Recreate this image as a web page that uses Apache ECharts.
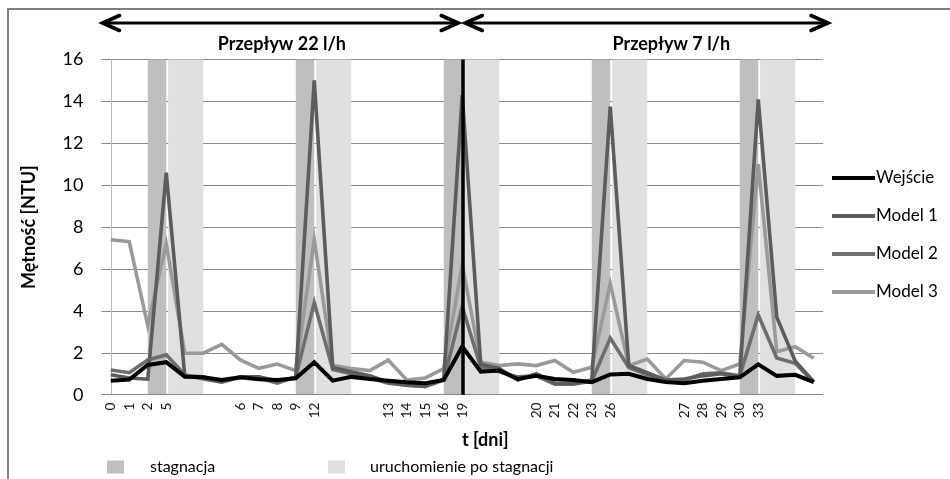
<!DOCTYPE html>
<html>
<head>
<meta charset="utf-8">
<script src="https://cdn.jsdelivr.net/npm/echarts@6/dist/echarts.min.js"></script>
<style>
html,body{margin:0;padding:0;background:#fff;}
#chart{width:950px;height:479px;}
</style>
</head>
<body>
<div id="chart"></div>
<script>
// ---- data ----
const categories = ['0','1','2','5','','','','6','7','8','9','12','','','','13','14','15','16','19','','','','20','21','22','23','26','','','','27','28','29','30','33','','',''];
const wejscie = [0.67,0.72,1.42,1.55,0.86,0.83,0.70,0.83,0.74,0.70,0.78,1.55,0.67,0.85,0.75,0.67,0.60,0.55,0.70,2.30,1.10,1.15,0.75,0.90,0.75,0.70,0.60,0.97,1.00,0.75,0.60,0.55,0.67,0.75,0.83,1.45,0.90,0.95,0.60];
const model1 = [0.95,0.80,0.74,10.6,0.90,0.85,0.62,0.85,0.85,0.65,0.82,15.0,1.30,1.10,0.90,0.60,0.45,0.40,0.75,14.3,1.45,1.25,0.70,1.00,0.55,0.55,0.70,13.75,1.40,1.05,0.70,0.75,0.90,1.00,0.85,14.1,3.70,1.60,0.62];
const model2 = [1.18,1.05,1.66,1.90,0.95,0.75,0.60,0.82,0.80,0.55,0.85,4.40,1.20,1.00,0.80,0.55,0.45,0.40,0.70,4.20,1.30,1.10,0.85,0.90,0.50,0.50,0.65,2.70,1.30,0.95,0.65,0.70,1.00,1.05,0.90,3.80,1.75,1.50,0.60];
const model3 = [7.40,7.30,3.30,7.20,1.98,1.98,2.40,1.66,1.26,1.46,1.15,7.40,1.40,1.25,1.15,1.65,0.70,0.80,1.25,6.20,1.55,1.39,1.47,1.39,1.63,1.07,1.31,5.30,1.39,1.70,0.75,1.63,1.55,1.15,1.47,11.0,2.05,2.29,1.74];
const spikeIdx = [3, 11, 19, 27, 35];      // first measurement after stagnation
const flowChangeIdx = 19;                  // flow changed from 22 l/h to 7 l/h
const flowLabels = ['Przepływ 22 l/h', 'Przepływ 7 l/h'];
const seriesNames = ['Wejście','Model 1','Model 2','Model 3'];
const bandNames = ['stagnacja','uruchomienie po stagnacji'];

// ---- chart ----
const FONT = 'Lato, "Open Sans", sans-serif';
const chart = echarts.init(document.getElementById('chart'), null, {renderer:'canvas'});
const n = categories.length;

const stagAreas = spikeIdx.map(i => [{xAxis: i - 1}, {xAxis: i}]);
const restartAreas = spikeIdx.map(i => [{xAxis: i + 0.1}, {xAxis: i + 2}]);

const lineColors = ['#000000', '#5c5c5c', '#6e6e6e', '#9a9a9a'];
const lineData = [wejscie, model1, model2, model3];

const option = {
  animation: false,
  textStyle: {fontFamily: FONT},
  grid: {left: 101.5, right: 127, top: 59.5, bottom: 84.3, containLabel: false},
  xAxis: [{
    type: 'category',
    data: categories,
    boundaryGap: true,
    axisLine: {lineStyle: {color: '#868686', width: 1}},
    axisTick: {show: false},
    axisLabel: {interval: 0, rotate: 90, fontSize: 13.5, color: '#111', margin: 8, fontFamily: FONT},
    name: 't [dni]',
    nameLocation: 'middle',
    nameGap: 36,
    nameTextStyle: {fontSize: 18, fontWeight: 'bold', color: '#000', padding: [0,0,0,46], verticalAlign: 'top', fontFamily: FONT},
    z: 3
  }, {
    type: 'value',
    min: -0.5, max: n - 0.5,
    show: false
  }],
  yAxis: {
    type: 'value',
    min: 0, max: 16, interval: 2,
    axisLine: {show: true, lineStyle: {color: '#bdbdbd', width: 1}},
    axisTick: {show: true, length: 5, lineStyle: {color: '#868686'}},
    splitLine: {show: true, lineStyle: {color: '#8a8a8a', width: 1}},
    axisLabel: {fontSize: 18, color: '#000', margin: 18, fontFamily: FONT},
    name: 'Mętność [NTU]',
    nameLocation: 'middle',
    nameRotate: 90,
    nameGap: 63,
    nameTextStyle: {fontSize: 18, fontWeight: 'bold', color: '#000', fontFamily: FONT},
    z: 1
  },
  legend: [{
    data: seriesNames.map(s => ({name: s, icon: 'rect'})),
    orient: 'vertical',
    left: 827, top: 163,
    itemWidth: 43, itemHeight: 4, itemGap: 18,
    textStyle: {fontSize: 17, color: '#000', lineHeight: 20, padding: [0,0,0,-4], fontFamily: FONT},
    selectedMode: false
  }, {
    data: [{name: bandNames[0], icon: 'rect'}],
    left: 102, top: 454,
    itemWidth: 17, itemHeight: 13,
    textStyle: {fontSize: 16, color: '#000', padding: [0,0,0,21], fontFamily: FONT},
    selectedMode: false
  }, {
    data: [{name: bandNames[1], icon: 'rect'}],
    left: 323, top: 454,
    itemWidth: 17, itemHeight: 13,
    textStyle: {fontSize: 16, color: '#000', padding: [0,0,0,20], fontFamily: FONT},
    selectedMode: false
  }],
  series: [
    {
      name: bandNames[0], type: 'line', xAxisIndex: 1, data: [], z: 0,
      itemStyle: {color: '#bfbfbf'}, lineStyle: {color: '#bfbfbf'}, symbol: 'none',
      markArea: {silent: true, itemStyle: {color: '#bfbfbf', opacity: 1}, data: stagAreas}
    },
    {
      name: bandNames[1], type: 'line', xAxisIndex: 1, data: [], z: 0,
      itemStyle: {color: '#e0e0e0'}, lineStyle: {color: '#e0e0e0'}, symbol: 'none',
      markArea: {silent: true, itemStyle: {color: '#e0e0e0', opacity: 1}, data: restartAreas}
    },
    ...lineData.map((d, k) => ({
      name: seriesNames[k], type: 'line', data: d, z: 2 + (k === 0 ? 4 : 3 - k),
      symbol: 'none', showSymbol: false,
      itemStyle: {color: lineColors[k]},
      lineStyle: {color: lineColors[k], width: k === 0 ? 4 : 3.6, join: 'miter'}
    })),
    {
      name: 'flow', type: 'line', xAxisIndex: 1, data: [], z: 7,
      symbol: 'none',
      markLine: {silent: true, symbol: ['none','none'], label: {show: false},
        lineStyle: {color: '#000', width: 3.5, type: 'solid'},
        data: [{xAxis: flowChangeIdx}]}
    }
  ]
};
chart.setOption(option);

// ---- annotations: flow-period arrows and labels, placed through the axis scales ----
function px(v) { return chart.convertToPixel({xAxisIndex: 1}, v); }
const left = px(-0.5), right = px(n - 0.5), mid = px(flowChangeIdx);
const yA = 23;
function arrow(x1, x2) {
  const hw = 17, hh = 7.5;
  return [
    {type: 'line', shape: {x1: x1 + 2, y1: yA, x2: x2 - 2, y2: yA}, style: {stroke: '#000', lineWidth: 3.2}},
    {type: 'polyline', shape: {points: [[x1 + hw, yA - hh], [x1, yA], [x1 + hw, yA + hh]]}, style: {stroke: '#000', lineWidth: 3.6, fill: null, lineJoin: 'miter', lineCap: 'round'}},
    {type: 'polyline', shape: {points: [[x2 - hw, yA - hh], [x2, yA], [x2 - hw, yA + hh]]}, style: {stroke: '#000', lineWidth: 3.6, fill: null, lineJoin: 'miter', lineCap: 'round'}}
  ];
}
const graphic = [
  {type: 'rect', shape: {x: 8, y: 9, width: 1000, height: 1000}, style: {fill: null, stroke: '#7f7f7f', lineWidth: 2}, silent: true},
  ...arrow(left + 1, mid - 4),
  ...arrow(mid + 3, right + 5),
  {type: 'text', x: (left + mid) / 2, y: 44, style: {text: flowLabels[0], font: 'bold 18px ' + FONT, fill: '#000', textAlign: 'center', textVerticalAlign: 'middle'}},
  {type: 'text', x: px(30.3), y: 44, style: {text: flowLabels[1], font: 'bold 18px ' + FONT, fill: '#000', textAlign: 'center', textVerticalAlign: 'middle'}}
];
chart.setOption({graphic: graphic});
</script>
</body>
</html>
